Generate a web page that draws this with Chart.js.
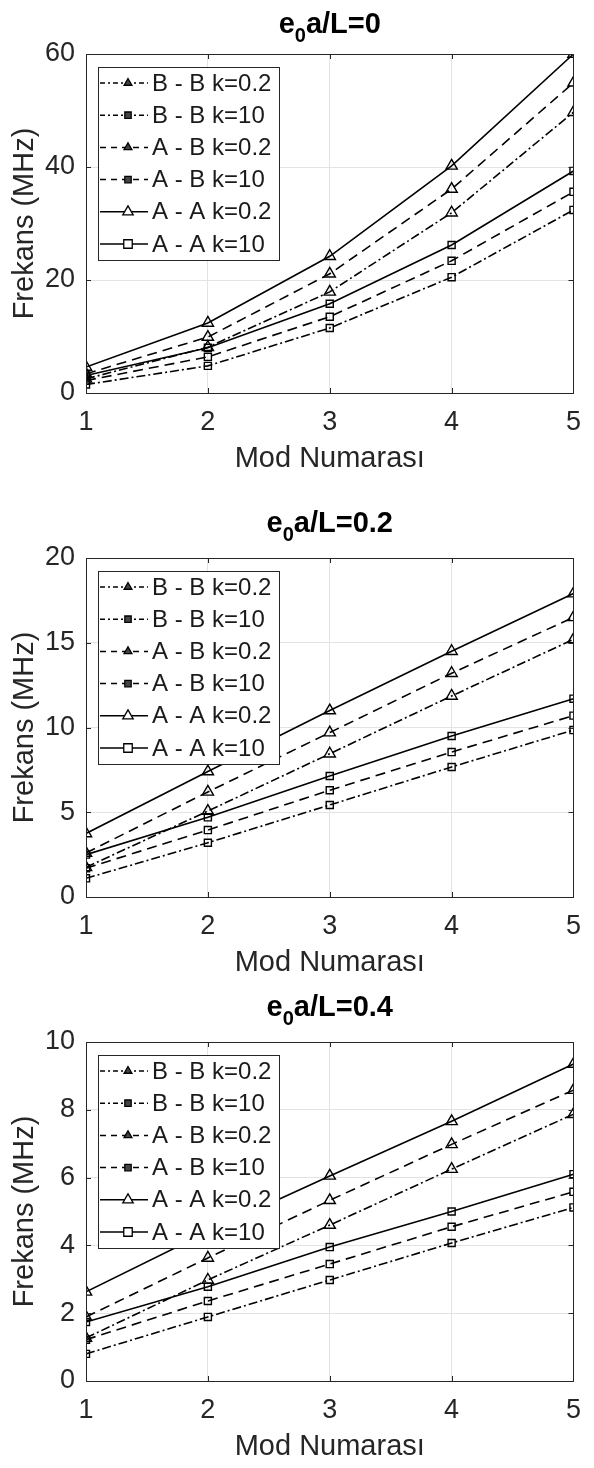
<!DOCTYPE html>
<html>
<head>
<meta charset="utf-8">
<script src="https://cdn.jsdelivr.net/npm/chart.js@4.4.0/dist/chart.umd.min.js"></script>
<style>
body { margin: 0; background: #fff; width: 594px; height: 1468px; position: relative; overflow: hidden; }
canvas { position: absolute; left: 0; }
</style>
</head>
<body>
<canvas id="c0" width="594" height="480" style="top:0px"></canvas>
<canvas id="c1" width="594" height="480" style="top:504px"></canvas>
<canvas id="c2" width="594" height="480" style="top:988px"></canvas>
<script>
var modes = [1, 2, 3, 4, 5];
var seriesNames = ["B - B k=0.2", "B - B k=10", "A - B k=0.2", "A - B k=10", "A - A k=0.2", "A - A k=10"];
var ratios = ["0", "0.2", "0.4"];   // e0a/L
var yMax = [60, 20, 10];
var yStep = [20, 5, 2];

// e0a/L = 0
var bb02_r0 = [2.5, 8.1, 17.9, 31.9, 49.7];
var bb10_r0 = [1.5, 4.8, 11.5, 20.5, 32.4];
var ab02_r0 = [3.4, 9.9, 21.1, 36.1, 54.9];
var ab10_r0 = [2.2, 6.4, 13.5, 23.4, 35.6];
var aa02_r0 = [4.6, 12.4, 24.2, 40.2, 60.0];
var aa10_r0 = [3.1, 8.0, 15.8, 26.2, 39.3];

// e0a/L = 0.2
var bb02_r2 = [1.75, 5.07, 8.45, 11.86, 15.2];
var bb10_r2 = [1.1, 3.2, 5.43, 7.67, 9.85];
var ab02_r2 = [2.6, 6.2, 9.7, 13.2, 16.5];
var ab10_r2 = [1.7, 3.95, 6.3, 8.55, 10.7];
var aa02_r2 = [3.75, 7.4, 11.0, 14.5, 17.9];
var aa10_r2 = [2.5, 4.7, 7.14, 9.5, 11.7];

// e0a/L = 0.4
var bb02_r4 = [1.27, 2.98, 4.6, 6.25, 7.87];
var bb10_r4 = [0.8, 1.89, 2.98, 4.07, 5.12];
var ab02_r4 = [1.89, 3.63, 5.33, 6.98, 8.58];
var ab10_r4 = [1.22, 2.36, 3.45, 4.55, 5.58];
var aa02_r4 = [2.63, 4.4, 6.05, 7.66, 9.35];
var aa10_r4 = [1.74, 2.78, 3.95, 5.0, 6.1];

var panels = [
  [bb02_r0, bb10_r0, ab02_r0, ab10_r0, aa02_r0, aa10_r0],
  [bb02_r2, bb10_r2, ab02_r2, ab10_r2, aa02_r2, aa10_r2],
  [bb02_r4, bb10_r4, ab02_r4, ab10_r4, aa02_r4, aa10_r4]
];

var FONT = '"Liberation Sans", Arial, sans-serif';
var DASHDOT = [9, 3, 2, 3];
var DASHED = [10, 6];
var dashes = [DASHDOT, DASHDOT, DASHED, DASHED, [], []];
var markers = ['triangle', 'rect', 'triangle', 'rect', 'triangle', 'rect'];
var titleBase = [33, 28, 28];

function marker(ctx, style, x, y, r, fill) {
  ctx.beginPath();
  if (style === 'triangle') {
    ctx.moveTo(x, y - r);
    ctx.lineTo(x + r * 0.866, y + r * 0.5);
    ctx.lineTo(x - r * 0.866, y + r * 0.5);
    ctx.closePath();
  } else {
    var s = r * 0.707;
    ctx.rect(x - s, y - s, 2 * s, 2 * s);
  }
  ctx.fillStyle = fill;
  ctx.fill();
  ctx.stroke();
}

var panelPlugin = {
  id: 'panel',
  afterDraw: function (chart, args, opts) {
    var ctx = chart.ctx, a = chart.chartArea;
    ctx.save();
    // inward tick marks
    ctx.strokeStyle = '#262626';
    ctx.lineWidth = 1;
    ctx.setLineDash([]);
    var xs = chart.scales.x, ys = chart.scales.y;
    ctx.beginPath();
    xs.ticks.forEach(function (t) {
      var px = Math.round(xs.getPixelForValue(t.value)) + 0.5;
      ctx.moveTo(px, a.bottom); ctx.lineTo(px, a.bottom - 5);
      ctx.moveTo(px, a.top); ctx.lineTo(px, a.top + 5);
    });
    ys.ticks.forEach(function (t) {
      var py = Math.round(ys.getPixelForValue(t.value)) + 0.5;
      ctx.moveTo(a.left, py); ctx.lineTo(a.left + 5, py);
      ctx.moveTo(a.right, py); ctx.lineTo(a.right - 5, py);
    });
    ctx.stroke();
    // axes box
    ctx.strokeRect(Math.round(a.left) + 0.5, Math.round(a.top) + 0.5, Math.round(a.right - a.left), Math.round(a.bottom - a.top));

    // title e0a/L=...
    ctx.fillStyle = '#000';
    ctx.textBaseline = 'alphabetic';
    ctx.textAlign = 'left';
    var big = 'bold 29px ' + FONT, small = 'bold 20px ' + FONT;
    ctx.font = big;
    var w1 = ctx.measureText('e').width;
    var rest = 'a/L=' + opts.ratio;
    var w3 = ctx.measureText(rest).width;
    ctx.font = small;
    var w2 = ctx.measureText('0').width;
    var x0 = (a.left + a.right) / 2 - (w1 + w2 + w3) / 2;
    var by = opts.titleY;
    ctx.font = big;
    ctx.fillText('e', x0, by);
    ctx.font = small;
    ctx.fillText('0', x0 + w1, by + 9);
    ctx.font = big;
    ctx.fillText(rest, x0 + w1 + w2, by);

    // legend box
    var lx = a.left + 12, ly = a.top + 13, lw = 181, lh = 193;
    ctx.fillStyle = '#fff';
    ctx.fillRect(lx, ly, lw, lh);
    ctx.strokeStyle = '#262626';
    ctx.lineWidth = 1;
    ctx.strokeRect(Math.round(lx) + 0.5, Math.round(ly) + 0.5, lw, lh);
    ctx.font = '24px ' + FONT;
    ctx.textBaseline = 'middle';
    chart.data.datasets.forEach(function (ds, i) {
      var cy = ly + 16 + i * 32.2;
      ctx.strokeStyle = '#000';
      ctx.lineWidth = 1.5;
      ctx.setLineDash(ds.borderDash.length ? [5, 3, 2, 3] : []);
      if (ds.borderDash === DASHED) ctx.setLineDash([6, 5]);
      ctx.beginPath();
      ctx.moveTo(lx + 2, cy);
      ctx.lineTo(lx + 50, cy);
      ctx.stroke();
      ctx.setLineDash([]);
      ctx.lineWidth = 1.3;
      var solid = ds.borderDash.length === 0;
      marker(ctx, ds.pointStyle, lx + 30, cy, solid ? 6 : 4.5, solid ? '#fff' : '#444');
      ctx.fillStyle = '#1a1a1a';
      ctx.fillText(ds.label, lx + 54, cy + 1);
    });
    ctx.restore();
  }
};

function makeChart(k) {
  var datasets = panels[k].map(function (vals, i) {
    return {
      label: seriesNames[i],
      data: modes.map(function (m, j) { return { x: m, y: vals[j] }; }),
      borderColor: '#000',
      borderWidth: 1.6,
      borderDash: dashes[i],
      pointStyle: markers[i],
      pointRadius: markers[i] === 'triangle' ? 6.5 : 5,
      pointBorderWidth: 1.4,
      pointBorderColor: '#000',
      pointBackgroundColor: 'rgba(255,255,255,0)',
      fill: false,
      tension: 0
    };
  });
  var tickFont = { family: FONT, size: 27, lineHeight: 1.2 };
  var labFont = { family: FONT, size: 29, lineHeight: 1.2 };
  return new Chart(document.getElementById('c' + k), {
    type: 'line',
    data: { datasets: datasets },
    plugins: [panelPlugin],
    options: {
      responsive: false,
      animation: false,
      devicePixelRatio: 1,
      layout: { padding: { top: 54, right: 10, left: 0, bottom: 0 } },
      plugins: {
        legend: { display: false },
        title: { display: false },
        tooltip: { enabled: false },
        panel: { ratio: ratios[k], titleY: titleBase[k] }
      },
      scales: {
        x: {
          type: 'linear', min: 1, max: 5,
          ticks: { stepSize: 1, padding: 13, color: '#262626', font: tickFont, maxRotation: 0 },
          grid: { color: '#e3e3e3', drawTicks: false },
          border: { display: false },
          title: { display: true, text: 'Mod Numarası', color: '#262626', font: labFont, padding: { top: 0, bottom: 4 } },
          afterFit: function (s) { s.height = 87; }
        },
        y: {
          min: 0, max: yMax[k],
          ticks: { stepSize: yStep[k], padding: 11, color: '#262626', font: tickFont },
          grid: { color: '#e3e3e3', drawTicks: false },
          border: { display: false },
          title: { display: true, text: 'Frekans (MHz)', color: '#262626', font: labFont, padding: { top: 8, bottom: 0 } },
          afterFit: function (s) { s.width = 86; }
        }
      }
    }
  });
}

makeChart(0);
makeChart(1);
makeChart(2);
</script>
</body>
</html>
